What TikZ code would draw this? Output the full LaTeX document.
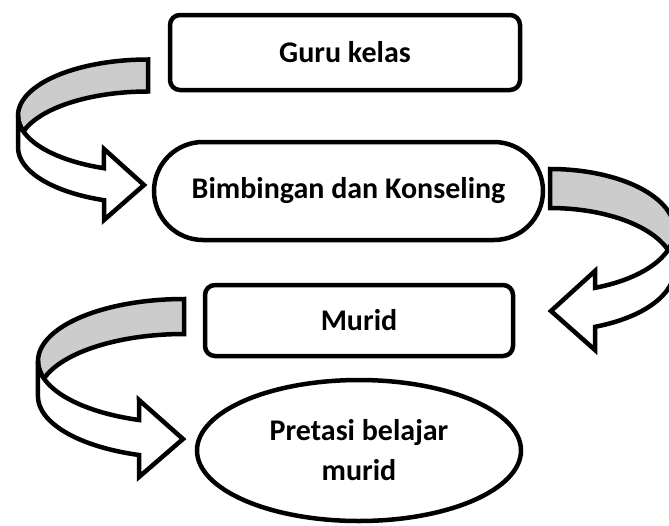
\documentclass[tikz,border=0pt]{standalone}
\usepackage{fontspec}
\setmainfont{Carlito}
\usetikzlibrary{shapes.geometric}
\begin{document}
\begin{tikzpicture}[x=1pt,y=-1pt,line join=miter,
  box/.style={draw, line width=4.5pt, rounded corners=10pt, inner sep=0pt,
    font=\bfseries\fontsize{30}{40}\selectfont, align=center},
  ribbon/.style={draw, line width=4.5pt},
  back/.style={ribbon, fill=black!20},
  front/.style={ribbon, fill=white}]
\useasboundingbox (0,0) rectangle (669,525);
% boxes
\node[box, minimum width=350pt, minimum height=75pt] (guru) at (345,52.5) {Guru kelas};
\node[box, rounded corners=49pt, minimum width=389pt, minimum height=98pt] (bk) at (348.5,191) {Bimbingan dan Konseling};
\node[box, minimum width=308pt, minimum height=71pt] (murid) at (359,320.5) {Murid};
\node[box, ellipse, sharp corners, minimum width=324pt, minimum height=141pt] (prestasi) at (359,450.5) {Pretasi belajar\\murid};
% curved arrow: guru -> bk (left)
\filldraw[back] (148,59.5) arc[start angle=270, end angle=163.4, x radius=130, y radius=56]
  arc[start angle=196.6, end angle=270, x radius=130, y radius=56] -- cycle;
\filldraw[front] (18,115.5) arc[start angle=180, end angle=109.8, x radius=130, y radius=56]
  -- (104,149) -- (144,185) -- (104,220) -- (104,200.2)
  arc[start angle=109.8, end angle=180, x radius=130, y radius=56] -- cycle;
% curved arrow: bk -> murid (right)
\filldraw[back] (550,169) arc[start angle=270, end angle=378.5, x radius=124.5, y radius=61.5]
  arc[start angle=341.5, end angle=270, x radius=124.5, y radius=61.5] -- cycle;
\filldraw[front] (674.5,230.5) arc[start angle=0, end angle=68.8, x radius=124.5, y radius=61.5]
  -- (595,271) -- (551,311) -- (595,350) -- (595,326.8)
  arc[start angle=68.8, end angle=0, x radius=124.5, y radius=61.5] -- cycle;
% curved arrow: murid -> prestasi (left)
\filldraw[back] (184,299) arc[start angle=270, end angle=163.6, x radius=146, y radius=62]
  arc[start angle=196.4, end angle=270, x radius=146, y radius=62] -- cycle;
\filldraw[front] (38,361) arc[start angle=180, end angle=107.9, x radius=146, y radius=62]
  -- (139,400) -- (183,439) -- (139,477) -- (139,455)
  arc[start angle=107.9, end angle=180, x radius=146, y radius=62] -- cycle;
\end{tikzpicture}
\end{document}
